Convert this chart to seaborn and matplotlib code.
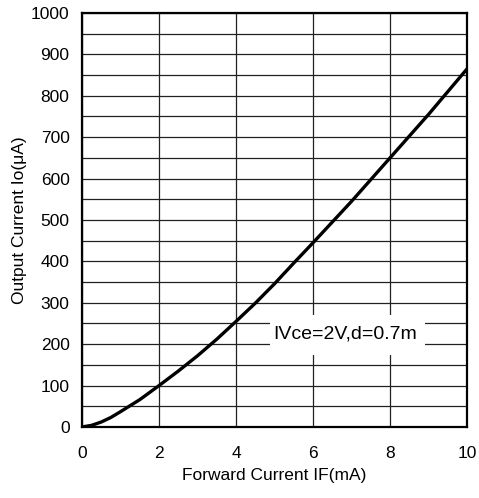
import numpy as np
import pandas as pd
import seaborn as sns
import matplotlib.pyplot as plt
from matplotlib.patches import Rectangle

# values
forward_current = [0, 0.25, 0.5, 0.75, 1, 1.5, 2, 2.5, 3, 3.5, 4, 4.5, 5, 5.5, 6, 7, 8, 9, 10]
output_current = [0, 4, 12, 23, 37, 66, 100, 135, 172, 212, 255, 299, 346, 396, 445, 545, 650, 755, 865]

x_ticks = [0, 2, 4, 6, 8, 10]
y_ticks = list(range(0, 1001, 100))
y_minor = list(range(50, 1000, 100))
note = 'IVce=2V,d=0.7m'

sns.set_theme(style='white')
plt.rcParams['font.family'] = ['Liberation Sans', 'DejaVu Sans']

df = pd.DataFrame({'IF': forward_current, 'Io': output_current})

fig = plt.figure(figsize=(4.79, 4.98), dpi=100)
ax = fig.add_axes([0.1712, 0.1426, 0.8038, 0.8313])

sns.lineplot(data=df, x='IF', y='Io', color='black', linewidth=2.4, ax=ax, zorder=4)

ax.set_xlim(0, 10)
ax.set_ylim(0, 1000)
ax.set_xticks(x_ticks)
ax.set_yticks(y_ticks)
ax.set_yticks(y_minor, minor=True)
ax.grid(True, which='major', color='#222222', linewidth=0.9)
ax.grid(True, which='minor', axis='y', color='#222222', linewidth=0.9)
ax.set_axisbelow(True)

ax.tick_params(axis='both', which='major', direction='in', length=4, width=1,
               color='black', labelsize=12.5, labelcolor='black')
ax.tick_params(axis='x', which='major', pad=14)
ax.tick_params(axis='y', which='major', pad=9)
ax.tick_params(axis='both', which='minor', length=0)
for s in ax.spines.values():
    s.set_visible(True)
    s.set_color('black')
    s.set_linewidth(1.6)

ax.set_xlabel('Forward Current IF(mA)', fontsize=12.5, color='black', labelpad=5)
ax.set_ylabel('Output Current Io(\u03bcA)', fontsize=12.5, color='black', labelpad=3)

# white box behind the condition label
ax.add_patch(Rectangle((4.88, 174), 4.03, 97, facecolor='white', edgecolor='none', zorder=2))
ax.text(6.83, 224, note, fontsize=14, color='black', ha='center', va='center', zorder=5)

plt.savefig('out.png', dpi=100)
plt.close()
